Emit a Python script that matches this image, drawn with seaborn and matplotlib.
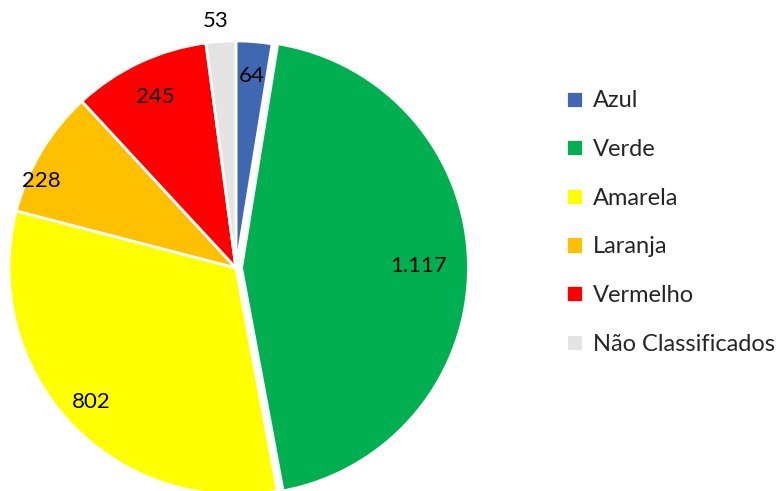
import matplotlib
matplotlib.use("Agg")
import matplotlib.pyplot as plt
import numpy as np
import seaborn as sns

categorias = ["Azul", "Verde", "Amarela", "Laranja", "Vermelho", "Não Classificados"]
valores = [64, 1117, 802, 228, 245, 53]
rotulos = ["64", "1.117", "802", "228", "245", "53"]
cores = ["#4068B2", "#00B050", "#FFFF00", "#FFC000", "#FF0000", "#E4E4E4"]

sns.set_theme(style="white")
plt.rcParams["font.family"] = ["Lato", "DejaVu Sans"]

fig = plt.figure(figsize=(7.77, 4.91), dpi=100)
# eixo do grafico de pizza (centro ~ (236,268) px, raio ~227 px)
ax = fig.add_axes([0.0116, -0.008, 0.584, 0.925])

explodir = [0, 0.025, 0, 0, 0, 0]
fatias, _ = ax.pie(
    valores,
    colors=cores,
    startangle=90,
    counterclock=False,
    explode=explodir,
    wedgeprops=dict(edgecolor="white", linewidth=2),
)
ax.set_xlim(-1, 1)
ax.set_ylim(-1, 1)
ax.set_aspect("equal")

# posicao radial dos rotulos de cada fatia
dist_rotulo = [0.85, 0.78, 0.87, 0.94, 0.83, 1.09]
ajuste_ang = [0, 0, 0, 7, 0, 1]
for fatia, txt, r, da, ex in zip(fatias, rotulos, dist_rotulo, ajuste_ang, explodir):
    ang = np.deg2rad((fatia.theta1 + fatia.theta2) / 2 + da)
    ax.text((r + ex) * np.cos(ang), (r + ex) * np.sin(ang), txt,
            ha="center", va="center", fontsize=16, color="black")

ax.legend(
    fatias, categorias,
    loc="center left", bbox_to_anchor=(1.206, 0.600),
    frameon=False, fontsize=17,
    handlelength=0.75, handleheight=0.75, handletextpad=0.4,
    labelspacing=1.17, borderaxespad=0,
)

fig.savefig("out.png", dpi=100)
